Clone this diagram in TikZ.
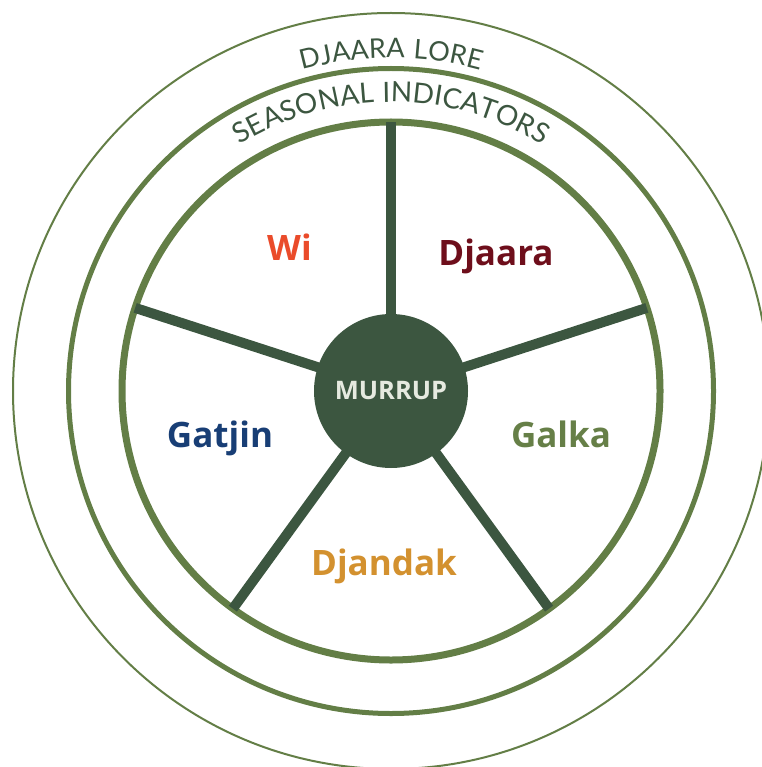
\documentclass[tikz,border=0pt]{standalone}
\usepackage{fontspec}
\setmainfont{Lato}
\newfontfamily\lblfont{Open Sans}
\newfontfamily\arcfont[LetterSpace=4]{Lato}
\newfontfamily\arcwidefont[LetterSpace=6.5]{Lato}
\usetikzlibrary{decorations.text}
\definecolor{ring}{HTML}{637E46}
\definecolor{dark}{HTML}{3C5640}
\definecolor{wicol}{HTML}{EA4B2A}
\definecolor{djaaracol}{HTML}{6E0E1B}
\definecolor{gatjincol}{HTML}{183E75}
\definecolor{galkacol}{HTML}{667F47}
\definecolor{djandakcol}{HTML}{D3912F}
\definecolor{hubtext}{HTML}{E6EAE0}
\tikzset{
  spoke/.style={draw=dark, line width=10pt, shorten <=-2pt},
  season/.style={font=\lblfont\bfseries\fontsize{35}{40}\selectfont, anchor=base, inner sep=0pt},
}
\begin{document}
\begin{tikzpicture}[x=1pt,y=1pt]
\useasboundingbox (0,0) rectangle (761,-767);
\coordinate (C) at (391,-391);
\draw[ring, line width=2pt] (C) circle[radius=378pt];
\draw[ring, line width=5pt] (C) circle[radius=322.5pt];
\draw[ring, line width=7pt] (C) circle[radius=269pt];
\node[circle, fill=dark, minimum size=154pt, inner sep=0pt, text=hubtext,
      font=\lblfont\bfseries\fontsize{25.5}{27}\selectfont] (hub) at (C) {MURRUP};
\foreach \a/\n in {90/a,18/b,-54/c,-126/d,162/e}{
  \path (C) ++(\a:269pt) coordinate (s\n);
  \draw[spoke] (hub.\a) -- (s\n);
}
\node[season, text=wicol] (wi) at (289.5,-260) {Wi};
\node[season, text=djaaracol] (djaara) at (496,-265) {Djaara};
\node[season, text=gatjincol] (gatjin) at (220,-447) {Gatjin};
\node[season, text=galkacol] (galka) at (561,-447) {Galka};
\node[season, text=djandakcol] (djandak) at (384,-575) {Djandak};
\path[decorate, decoration={text along path, text align=center,
  text={|\arcwidefont\fontsize{27}{27}\selectfont\color{dark}|DJAARA LORE}}]
  (C) ++(150:333pt) arc[start angle=150, end angle=30, radius=333pt];
\path[decorate, decoration={text along path, text align=center,
  text={|\arcfont\fontsize{28}{28}\selectfont\color{dark}|SEASONAL INDICATORS}}]
  (C) ++(150:289pt) arc[start angle=150, end angle=30, radius=289pt];
\end{tikzpicture}
\end{document}
